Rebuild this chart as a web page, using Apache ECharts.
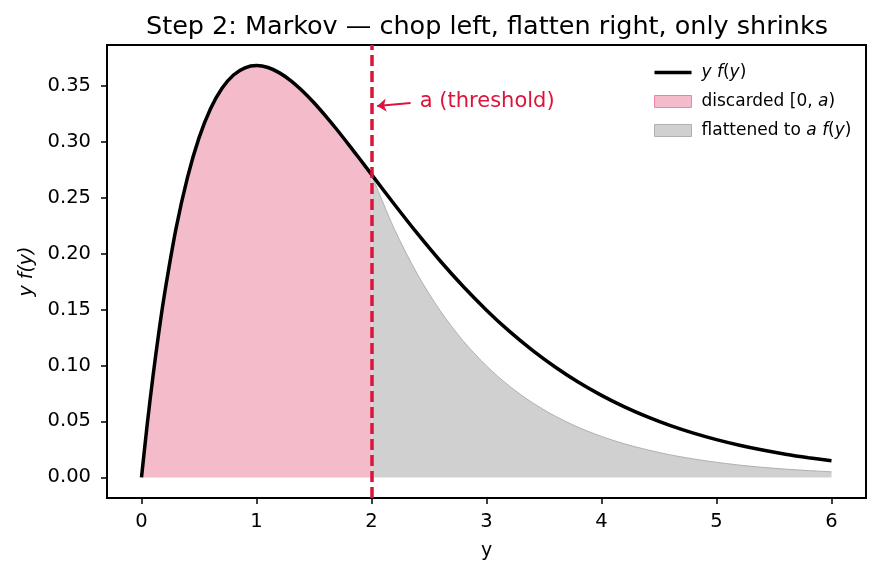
<!DOCTYPE html>
<html>
<head>
<meta charset="utf-8">
<script src="https://cdn.jsdelivr.net/npm/echarts@6/dist/echarts.min.js"></script>
<style>
  html, body { margin: 0; padding: 0; background: #fff; }
  #main { width: 880px; height: 573px; }
</style>
</head>
<body>
<div id="main"></div>
<script>
// sample points of y f(y)
var xs = [0, 0.05, 0.1, 0.15, 0.2, 0.3, 0.4, 0.5, 0.6, 0.7, 0.8, 0.9, 1.0, 1.1, 1.2, 1.3, 1.4, 1.5, 1.6, 1.7, 1.8, 1.9, 2.0,
          2.2, 2.4, 2.6, 2.8, 3.0, 3.2, 3.4, 3.6, 3.8, 4.0, 4.2, 4.4, 4.6, 4.8, 5.0, 5.2, 5.4, 5.6, 5.8, 6.0];
var yfy = [0, 0.0476, 0.0905, 0.1291, 0.1637, 0.2222, 0.2681, 0.3033, 0.3293, 0.3476, 0.3595, 0.3659, 0.3679, 0.3662, 0.3614,
           0.3543, 0.3452, 0.3347, 0.3230, 0.3106, 0.2975, 0.2842, 0.2707,
           0.2438, 0.2177, 0.1931, 0.1703, 0.1494, 0.1304, 0.1135, 0.0984, 0.0850, 0.0733, 0.0630, 0.0540, 0.0462,
           0.0395, 0.0337, 0.0287, 0.0244, 0.0207, 0.0176, 0.0149];
// flattened part a f(y) for y >= a
var xsFlat = [2.0, 2.2, 2.4, 2.6, 2.8, 3.0, 3.2, 3.4, 3.6, 3.8, 4.0, 4.2, 4.4, 4.6, 4.8, 5.0, 5.2, 5.4, 5.6, 5.8, 6.0];
var afy = [0.2707, 0.2216, 0.1814, 0.1485, 0.1216, 0.0996, 0.0815, 0.0667, 0.0546, 0.0447, 0.0366, 0.0300, 0.0246,
           0.0201, 0.0165, 0.0135, 0.0110, 0.0090, 0.0074, 0.0061, 0.0050];
var threshold = 2;
var xTicks = [0, 1, 2, 3, 4, 5, 6];
var yTicks = [0, 0.05, 0.10, 0.15, 0.20, 0.25, 0.30, 0.35];

var crimson = '#dc143c';
var font = 'DejaVu Sans';

var curve = xs.map(function (x, i) { return [x, yfy[i]]; });
var left = curve.filter(function (p) { return p[0] <= threshold; });
var flat = xsFlat.map(function (x, i) { return [x, afy[i]]; });

var myChart = echarts.init(document.getElementById('main'));

var option = {
    animation: false,
    backgroundColor: '#fff',
    textStyle: { fontFamily: font },
    title: {
        text: 'Step 2: Markov — chop left, flatten right, only shrinks',
        left: 482, top: 9, textAlign: 'center',
        textStyle: { fontFamily: font, fontSize: 25.5, fontWeight: 'normal', color: '#000' }
    },
    grid: { left: 107, right: 14, top: 45, bottom: 75, show: true, borderColor: '#000', borderWidth: 2 },
    legend: {
        orient: 'vertical', left: 649, top: 58, itemWidth: 37, itemHeight: 12, itemGap: 10,
        textStyle: {
            fontFamily: font, fontSize: 17, color: '#000', lineHeight: 19, padding: [0, 0, 0, 5],
            rich: { it: { fontFamily: font, fontSize: 17, fontStyle: 'italic', lineHeight: 19 } }
        },
        formatter: function (name) {
            if (name === 'yfy') return '{it|y f}(' + '{it|y})';
            if (name === 'disc') return 'discarded [0, {it|a})';
            return 'flattened to {it|a f}({it|y})';
        },
        data: [
            { name: 'yfy', icon: 'path://M0,0H40V4H0Z', itemStyle: { color: '#000' } },
            { name: 'disc', icon: 'rect', itemStyle: { color: '#f4bccb', borderColor: '#e8869f', borderWidth: 1 } },
            { name: 'flat', icon: 'rect', itemStyle: { color: '#d0d0d0', borderColor: '#b0b0b0', borderWidth: 1 } }
        ]
    },
    xAxis: {
        type: 'value', min: -0.3, max: 6.3,
        name: 'y', nameLocation: 'middle', nameGap: 44,
        nameTextStyle: { fontFamily: font, fontSize: 19, color: '#000' },
        splitLine: { show: false },
        axisLine: { onZero: false, lineStyle: { color: '#000', width: 2 } },
        axisTick: { customValues: xTicks, length: 6, lineStyle: { color: '#000', width: 1.5 } },
        axisLabel: { customValues: xTicks, fontFamily: font, fontSize: 19.5, color: '#000', margin: 14 }
    },
    yAxis: {
        type: 'value', min: -0.0184, max: 0.3863,
        name: 'y f(y)', nameLocation: 'middle', nameGap: 63,
        nameTextStyle: { fontFamily: font, fontSize: 19, color: '#000', fontStyle: 'italic' },
        splitLine: { show: false },
        axisLine: { onZero: false, lineStyle: { color: '#000', width: 2 } },
        axisTick: { customValues: yTicks, length: 6, lineStyle: { color: '#000', width: 1.5 } },
        axisLabel: {
            customValues: yTicks, fontFamily: font, fontSize: 19.5, color: '#000', margin: 16,
            formatter: function (v) { return v.toFixed(2); }
        }
    },
    series: [
        {
            name: 'disc', type: 'line', data: left, showSymbol: false, symbol: 'none', smooth: 0.3,
            lineStyle: { width: 0, color: '#f4bccb' }, itemStyle: { color: '#f4bccb' },
            areaStyle: { color: '#f4bccb', opacity: 1, origin: 0 }, z: 1
        },
        {
            name: 'flat', type: 'line', data: flat, showSymbol: false, symbol: 'none', smooth: 0.3,
            lineStyle: { width: 1, color: '#b0b0b0' }, itemStyle: { color: '#d0d0d0' },
            areaStyle: { color: '#d0d0d0', opacity: 1, origin: 0 }, z: 1
        },
        {
            name: 'yfy', type: 'line', data: curve, showSymbol: false, symbol: 'none', smooth: 0.3,
            lineStyle: { width: 3.5, color: '#000' }, itemStyle: { color: '#000' }, z: 3,
            markLine: {
                silent: true, symbol: 'none', label: { show: false },
                lineStyle: { color: crimson, width: 3.5, type: [11, 5] },
                data: [{ xAxis: threshold }]
            }
        },
        {
            name: 'note', type: 'line', data: [], z: 4,
            markLine: {
                silent: true, symbol: ['none', 'arrow'], symbolSize: [10, 9], label: { show: false },
                lineStyle: { color: crimson, width: 2, type: 'solid' },
                data: [[{ coord: [2.34, 0.3345] }, { coord: [2.05, 0.3318] }]]
            },
            markPoint: {
                silent: true, symbol: 'circle', symbolSize: 0,
                label: {
                    show: true, position: 'right', distance: 0, color: crimson,
                    fontFamily: font, fontSize: 21, formatter: 'a (threshold)'
                },
                data: [{ coord: [2.42, 0.3355] }]
            }
        }
    ]
};

myChart.setOption(option);
</script>
</body>
</html>
